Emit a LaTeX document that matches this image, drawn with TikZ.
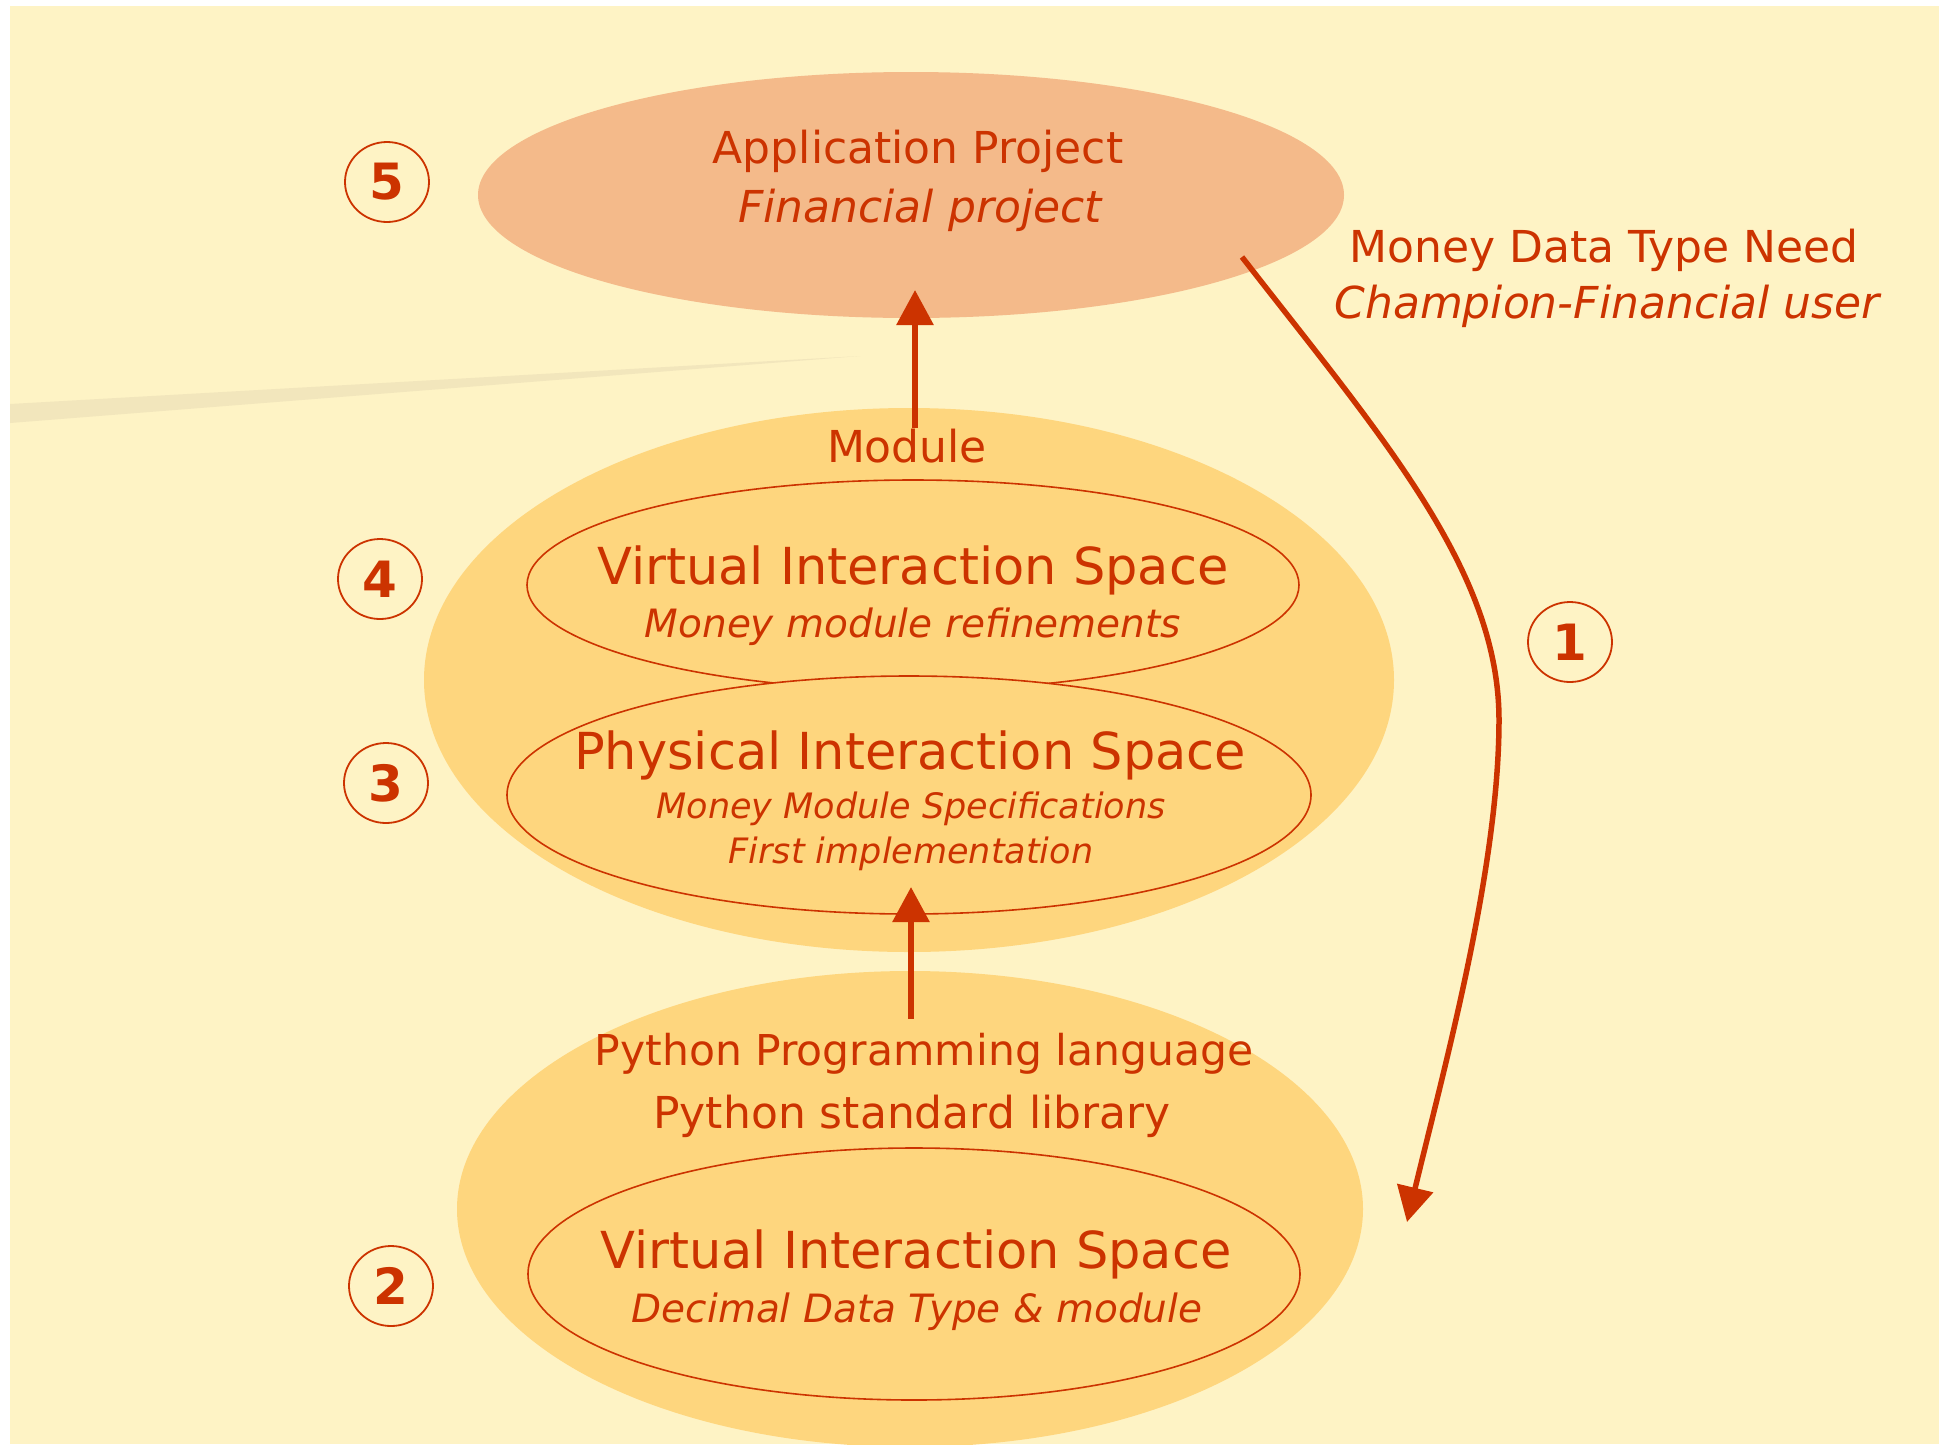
\documentclass[tikz,border=0pt]{standalone}
\usepackage{fontspec}
\setmainfont{DejaVu Sans}
\usetikzlibrary{calc, arrows.meta, positioning, shapes.geometric}
\definecolor{bgYellow}{RGB}{254,243,197}
\definecolor{layerYellow}{RGB}{254,214,126}
\definecolor{appSalmon}{RGB}{244,186,138}
\definecolor{inkRed}{RGB}{204,51,0}
\definecolor{stripeBeige}{RGB}{242,230,188}

\begin{document}
\begin{tikzpicture}[x=1pt, y=-1pt,
        lbl/.style={text=inkRed, anchor=base, inner sep=0pt},
        head/.style={lbl, font=\fontsize{44}{54}\selectfont},
        headit/.style={lbl, font=\fontsize{44}{54}\selectfont\itshape},
        space/.style={lbl, font=\fontsize{51}{60}\selectfont},
        sub/.style={lbl, font=\fontsize{39}{48}\selectfont\itshape},
        small/.style={lbl, font=\fontsize{35}{42}\selectfont\itshape},
        blob/.style={ellipse, draw=none, fill=layerYellow, inner sep=0pt},
        ring/.style={ellipse, draw=inkRed, line width=1.6pt, fill=layerYellow, inner sep=0pt},
        num/.style={ellipse, draw=inkRed, line width=1.8pt, minimum width=84pt, minimum height=80pt,
            inner sep=0pt, text=inkRed, font=\fontsize{50}{60}\selectfont\bfseries},
        flow/.style={draw=inkRed, line width=6pt, line join=round, -{Triangle[length=35pt, width=36pt]}}
    ]
        \useasboundingbox (0,0) rectangle (1939,1444);
        \fill[white] (0,0) rectangle (1939,1444);
        \fill[bgYellow] (10,6) rectangle (1939,1444);
        \fill[stripeBeige] (10,404) -- (860,356) -- (10,423) -- cycle;

        % layers
        \node[blob, minimum width=906pt, minimum height=476pt] (lowerLayer) at (910,1209) {};
        \node[blob, minimum width=970pt, minimum height=544pt] (moduleLayer) at (909,680) {};
        \node[blob, fill=appSalmon, minimum width=866pt, minimum height=246pt] (appLayer) at (911,195) {};
        \node[ring, minimum width=772pt, minimum height=210pt] (virtTop) at (913,585) {};
        \node[ring, minimum width=804pt, minimum height=238pt] (physSpace) at (909,795) {};
        \node[ring, minimum width=772pt, minimum height=252pt] (virtLow) at (914,1274) {};

        % texts
        \node[head] (appTitle) at (918,163) {Application Project};
        \node[headit] (appSub) at (920,222) {Financial project};
        \node[head] (needTitle) at (1604,262) {Money Data Type Need};
        \node[headit] (needSub) at (1607,318) {Champion-Financial user};
        \node[head] (moduleLbl) at (907,462) {Module};
        \node[space] (virtTopTitle) at (913,584) {Virtual Interaction Space};
        \node[sub] (virtTopSub) at (913,637) {Money module refinements};
        \node[space] (physTitle) at (910,769) {Physical Interaction Space};
        \node[small] (physSubA) at (911,818) {Money Module Specifications};
        \node[small] (physSubB) at (911,863) {First implementation};
        \node[head, font=\fontsize{42.5}{54}\selectfont] (pyLang) at (924,1065) {Python Programming language};
        \node[head] (pyLib) at (912,1128) {Python standard library};
        \node[space] (virtLowTitle) at (916,1268) {Virtual Interaction Space};
        \node[sub] (virtLowSub) at (917,1322) {Decimal Data Type \& module};

        % arrows
        \coordinate (cAppTipPt) at (915,290);
        \coordinate (cPhysTipPt) at (911,887);
        \coordinate (cNeedPt) at (1242,257);
        \coordinate (cLowTipPt) at (1407,1222);
        \draw[flow] (moduleLbl.north -| cAppTipPt) -- (cAppTipPt);
        \draw[flow] ($(pyLang.north -| cPhysTipPt)+(0,-14)$) -- (cPhysTipPt);
        \draw[flow, line width=5.5pt] (cNeedPt) .. controls (1382,437) and (1499,570) .. (1499,720)
            .. controls (1499,870) and (1443,1072) .. (cLowTipPt);

        \foreach \v/\x/\y in
        {five/387/182,
         four/380/579,
         three/386/783,
         two/391/1286,
         one/1570/642
        }
        {
            \node[num] (num\v) at (\x,\y) {};
        };
        \node at (numfive) [text=inkRed, font=\fontsize{50}{60}\selectfont\bfseries] {5};
        \node at (numfour) [text=inkRed, font=\fontsize{50}{60}\selectfont\bfseries] {4};
        \node at (numthree) [text=inkRed, font=\fontsize{50}{60}\selectfont\bfseries] {3};
        \node at (numtwo) [text=inkRed, font=\fontsize{50}{60}\selectfont\bfseries] {2};
        \node at (numone) [text=inkRed, font=\fontsize{50}{60}\selectfont\bfseries] {1};
    \end{tikzpicture}
\end{document}
